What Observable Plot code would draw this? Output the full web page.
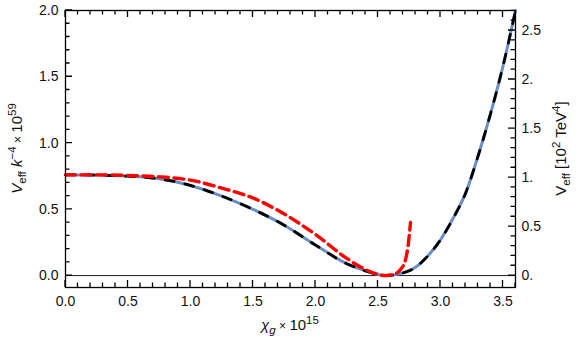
<!DOCTYPE html>
<html><head><meta charset="utf-8">
<script src="https://cdn.jsdelivr.net/npm/d3@7"></script>
<script src="https://cdn.jsdelivr.net/npm/@observablehq/plot@0.6"></script>
<style>
body{margin:0;background:#fff}
svg{font-family:"Liberation Sans",Arial,sans-serif}
</style>
</head><body><div id="chart"></div>
<script>
// full potential (blue solid + black dashed)
const chiFull = [0, 0.25, 0.5, 0.75, 1.0, 1.25, 1.5, 1.75, 2.0, 2.25, 2.4, 2.5, 2.55, 2.6, 2.7, 2.8, 2.9, 3.0, 3.1, 3.2, 3.3, 3.4, 3.5, 3.6];
const vFull   = [0.76, 0.758, 0.75, 0.73, 0.68, 0.60, 0.50, 0.38, 0.23, 0.09, 0.035, 0.008, 0.0, 0.002, 0.02, 0.062, 0.15, 0.27, 0.43, 0.62, 0.90, 1.22, 1.58, 2.0];
// approximation (red dashed)
const chiRed = [0, 0.25, 0.5, 0.75, 1.0, 1.25, 1.5, 1.75, 2.0, 2.25, 2.4, 2.5, 2.55, 2.6, 2.65, 2.68, 2.72, 2.74, 2.76];
const vRed   = [0.76, 0.76, 0.755, 0.745, 0.72, 0.66, 0.585, 0.465, 0.31, 0.13, 0.045, 0.01, 0.0, 0.004, 0.018, 0.045, 0.12, 0.22, 0.40];

const xMajor = [0, 0.5, 1.0, 1.5, 2.0, 2.5, 3.0, 3.5];
const yMajor = [0, 0.5, 1.0, 1.5, 2.0];
const rightMajor = [0, 0.5, 1, 1.5, 2, 2.5];
const rightLabels = ["0.", "0.5", "1.", "1.5", "2.", "2.5"];
const unitRatio = 1.352; // right-axis units (10^2 TeV^4) per left-axis unit

const full = chiFull.map((x, i) => ({x, v: vFull[i]}));
const red = chiRed.map((x, i) => ({x, v: vRed[i]}));

const xMinor = d3.range(0, 3.601, 0.1).map(d => +d.toFixed(2));
const yMinor = d3.range(0, 2.001, 0.1).map(d => +d.toFixed(2));
const rMinor = d3.range(0, 2.701, 0.1).map(d => +(d / unitRatio).toFixed(5));
const rMajorPos = rightMajor.map(d => d / unitRatio);

const W = 580, H = 354, mL = 65, mR = 65, mT = 10, mB = 67;
const fw = W - mL - mR, fh = H - mT - mB;
const col = "#111";
const tickMinor = 4.5, tickMajor = 7;

const chart = Plot.plot({
  width: W, height: H,
  marginLeft: mL, marginRight: mR, marginTop: mT, marginBottom: mB,
  style: {fontSize: "14px", fontFamily: '"Liberation Sans", Arial, sans-serif', color: col},
  x: {domain: [0, 3.6]},
  y: {domain: [-0.09, 2.0]},
  marks: [
    Plot.ruleY([0], {stroke: "#000", strokeWidth: 0.9}),
    Plot.line(full, {x: "x", y: "v", stroke: "#6a8fc6", strokeWidth: 3, curve: "monotone-x"}),
    Plot.line(full, {x: "x", y: "v", stroke: "#000", strokeWidth: 2.8, strokeDasharray: "9,11", curve: "monotone-x"}),
    Plot.line(red, {x: "x", y: "v", stroke: "#ff0000", strokeWidth: 3.4, strokeDasharray: "10,5.5", curve: "monotone-x"}),
    Plot.axisX(xMajor, {anchor: "bottom", tickSize: 0, tickPadding: 9, tickFormat: d => d.toFixed(1), label: null, fill: col}),
    Plot.axisY(yMajor, {anchor: "left", tickSize: 0, tickPadding: 7, tickFormat: d => d.toFixed(1), label: null, fill: col}),
    Plot.axisY(rMajorPos, {anchor: "right", tickSize: 0, tickPadding: 6, tickFormat: (d, i) => rightLabels[i], label: null, fill: col}),
    Plot.frame({stroke: "#000", strokeWidth: 1.3})
  ]
});
document.getElementById("chart").append(chart);

const svg = d3.select(chart);
const sx = chart.scale("x"), sy = chart.scale("y");
const fTop = mT, fBottom = H - mB, fLeft = mL, fRight = W - mR;
const fx = v => (typeof sx.apply === "function") ? sx.apply(v) : d3.scaleLinear(sx.domain, sx.range)(v);
const fy = v => (typeof sy.apply === "function") ? sy.apply(v) : d3.scaleLinear(sy.domain, sy.range)(v);

// inward frame ticks, positioned through the plot's own scales
let dPath = "";
for (const [vals, len] of [[xMinor, tickMinor], [xMajor, tickMajor]]) for (const v of vals) {
  const px = fx(v);
  dPath += `M${px},${fBottom}V${fBottom - len}M${px},${fTop}V${fTop + len}`;
}
for (const [vals, len] of [[yMinor, tickMinor], [yMajor, tickMajor]]) for (const v of vals) dPath += `M${fLeft},${fy(v)}H${fLeft + len}`;
for (const [vals, len] of [[rMinor, tickMinor], [rMajorPos, tickMajor]]) for (const v of vals) dPath += `M${fRight},${fy(v)}H${fRight - len}`;
svg.append("path").attr("d", dPath).attr("fill", "none").attr("stroke", "#000").attr("stroke-width", 1.3);

const midY = mT + fh / 2;
const midX = mL + fw / 2;
const big = 15, small = 11.5;

// left label
const tl = svg.append("text")
  .attr("transform", `translate(22,${midY}) rotate(-90)`)
  .attr("text-anchor", "middle").attr("font-size", big).attr("fill", col);
tl.append("tspan").attr("font-style", "italic").text("V");
tl.append("tspan").attr("font-size", small).attr("dy", 4).text("eff");
tl.append("tspan").attr("dy", -4).attr("font-style", "italic").text(" k");
tl.append("tspan").attr("font-size", small).attr("dy", -6).text("−4");
tl.append("tspan").attr("dy", 6).attr("font-size", 12).text(" × ");
tl.append("tspan").text("10");
tl.append("tspan").attr("font-size", small).attr("dy", -6).text("59");

// right label
const tr = svg.append("text")
  .attr("transform", `translate(566,${midY}) rotate(-90)`)
  .attr("text-anchor", "middle").attr("font-size", big).attr("fill", col);
tr.append("tspan").text("V");
tr.append("tspan").attr("font-size", small).attr("dy", 4).text("eff");
tr.append("tspan").attr("dy", -4).text(" [10");
tr.append("tspan").attr("font-size", small).attr("dy", -6).text("2");
tr.append("tspan").attr("dy", 6).text(" TeV");
tr.append("tspan").attr("font-size", small).attr("dy", -6).text("4");
tr.append("tspan").attr("dy", 6).text("]");

// x label
const tx = svg.append("text")
  .attr("transform", `translate(${midX},330)`)
  .attr("text-anchor", "middle").attr("font-size", big).attr("fill", col);
tx.append("tspan").attr("font-style", "italic").text("χ");
tx.append("tspan").attr("font-style", "italic").attr("font-size", small).attr("dy", 4).text("g");
tx.append("tspan").attr("dy", -4).attr("font-size", 12).text(" × ");
tx.append("tspan").text("10");
tx.append("tspan").attr("font-size", small).attr("dy", -6).text("15");
</script>
</body></html>
